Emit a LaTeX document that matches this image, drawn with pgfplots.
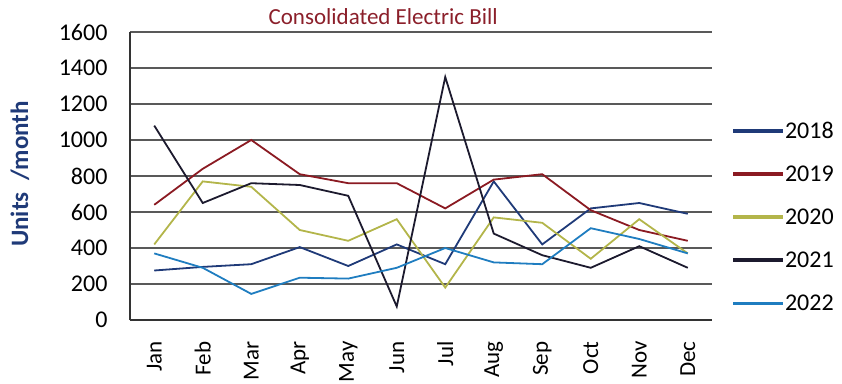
\documentclass[border=0pt]{standalone}
\usepackage{fontspec}
\setmainfont{Carlito}
\usepackage{pgfplots}
\pgfplotsset{compat=1.18}
\definecolor{c18}{HTML}{1F3A78}
\definecolor{c19}{HTML}{8B1A22}
\definecolor{c20}{HTML}{B3B54A}
\definecolor{c21}{HTML}{1C1A2E}
\definecolor{c22}{HTML}{1F7DC0}
\definecolor{titlered}{HTML}{8B1F2A}
\definecolor{labblue}{HTML}{1F3A78}
\begin{document}
\begin{tikzpicture}
\path[use as bounding box] (-130pt,-63pt) rectangle (712pt,320pt);
\begin{axis}[
  at={(0pt,0pt)}, anchor=south west,
  scale only axis, width=582pt, height=288pt,
  xmin=-0.5, xmax=11.5, ymin=0, ymax=1600,
  ytick={0,200,...,1600},
  xtick={0,...,11},
  xticklabels={Jan,Feb,Mar,Apr,May,Jun,Jul,Aug,Sep,Oct,Nov,Dec},
  x tick label style={rotate=90, anchor=east, font=\fontsize{23}{23}\selectfont, xshift=-18pt},
  y tick label style={font=\fontsize{24}{24}\selectfont, xshift=-19pt},
  /pgf/number format/assume math mode=true,
  /pgf/number format/1000 sep={},
  ymajorgrids,
  grid style={black!65, line width=1.1pt},
  axis x line*=bottom, axis y line*=left,
  axis line style={black!80, line width=1.1pt},
  major tick length=0pt,
  legend style={at={(axis description cs:1,0.358)}, anchor=west, xshift=18pt,
    draw=none, fill=none, font=\fontsize{24}{24}\selectfont, row sep=22pt},
  legend cell align=left,
  legend image code/.code={\fill[#1] (0pt,-1pt) rectangle (48pt,1pt);},
  every axis plot/.append style={line width=1.8pt, no markers},
  clip=false,
]
\addplot[color=c18] coordinates {(0,275)(1,295)(2,310)(3,405)(4,300)(5,420)(6,310)(7,770)(8,420)(9,620)(10,650)(11,590)};
\addlegendentry{2018}
\addplot[color=c19] coordinates {(0,640)(1,840)(2,1000)(3,810)(4,760)(5,760)(6,620)(7,780)(8,810)(9,610)(10,500)(11,440)};
\addlegendentry{2019}
\addplot[color=c20] coordinates {(0,420)(1,770)(2,740)(3,500)(4,440)(5,560)(6,180)(7,570)(8,540)(9,340)(10,560)(11,370)};
\addlegendentry{2020}
\addplot[color=c21] coordinates {(0,1080)(1,650)(2,760)(3,750)(4,690)(5,75)(6,1350)(7,480)(8,360)(9,290)(10,410)(11,290)};
\addlegendentry{2021}
\addplot[color=c22] coordinates {(0,370)(1,290)(2,145)(3,235)(4,230)(5,290)(6,400)(7,320)(8,310)(9,510)(10,450)(11,370)};
\addlegendentry{2022}
\node[text=titlered, font=\fontsize{23}{23}\selectfont] at (rel axis cs:0.435,1.052) {Consolidated Electric Bill};
\node[text=labblue, font=\fontsize{25}{25}\selectfont\bfseries, rotate=90] at (rel axis cs:-0.189,0.507) {Units\ \ /month};
\end{axis}
\end{tikzpicture}
\end{document}
